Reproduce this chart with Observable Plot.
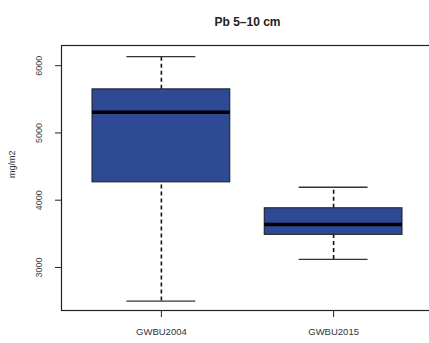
<!DOCTYPE html>
<html><head><meta charset="utf-8">
<script src="https://cdn.jsdelivr.net/npm/d3@7"></script>
<script src="https://cdn.jsdelivr.net/npm/@observablehq/plot@0.6"></script>
<style>
html,body{margin:0;padding:0;background:#fff;overflow:hidden;}
svg{max-width:none !important;}
</style></head>
<body><div id="chart"></div>
<script>
const categories = ["GWBU2004", "GWBU2015"];
const whiskerLow  = [2500, 3120];
const q1          = [4265, 3485];
const median      = [5307, 3640];
const q3          = [5648, 3880];
const whiskerHigh = [6135, 4192];
const yTicks = [3000, 4000, 5000, 6000];
const title = "Pb 5\u201310 cm";
const yLabel = "mg/m2";

const data = categories.map((c, i) => ({
  cat: c, i: i + 1, lo: whiskerLow[i], q1: q1[i], med: median[i], q3: q3[i], hi: whiskerHigh[i]
}));

const font = "Liberation Sans, Arial, sans-serif";
const chart = Plot.plot({
  width: 434, height: 343,
  marginLeft: 61, marginRight: 1, marginTop: 45, marginBottom: 33,
  style: {fontFamily: font, fontSize: "9px", color: "#333", background: "#fff", maxWidth: "none"},
  x: {domain: [0.42, 2.58], axis: null},
  y: {domain: [2360, 6300], axis: null},
  marks: [
    Plot.ruleX(data, {x: "i", y1: "lo", y2: "q1", stroke: "#111", strokeWidth: 1.6, strokeDasharray: "4,3"}),
    Plot.ruleX(data, {x: "i", y1: "q3", y2: "hi", stroke: "#111", strokeWidth: 1.6, strokeDasharray: "4,3"}),
    Plot.ruleY(data, {y: "lo", x1: d => d.i - 0.2, x2: d => d.i + 0.2, stroke: "#333", strokeWidth: 1.4}),
    Plot.ruleY(data, {y: "hi", x1: d => d.i - 0.2, x2: d => d.i + 0.2, stroke: "#333", strokeWidth: 1.4}),
    Plot.rectY(data, {x1: d => d.i - 0.4, x2: d => d.i + 0.4, y1: "q1", y2: "q3", fill: "#2f4a95", stroke: "#1a1a1a", strokeWidth: 1}),
    Plot.ruleY(data, {y: "med", x1: d => d.i - 0.4, x2: d => d.i + 0.4, stroke: "#000", strokeWidth: 3.5}),
    Plot.frame({stroke: "#222", strokeWidth: 1.2}),
    Plot.axisY(yTicks, {tickSize: 6, tickRotate: -90, tickPadding: 14, tickFormat: "d", label: null, stroke: "#222", fill: "#444", fontSize: 9}),
    Plot.axisX([1, 2], {tickSize: 7, tickPadding: 11, tickFormat: d => categories[d - 1], label: null, stroke: "#222", fill: "#333", fontSize: 9.5}),
    Plot.text([title], {frameAnchor: "top", dy: -28, fontWeight: "bold", fontSize: 12, fill: "#222"}),
    Plot.text([yLabel], {frameAnchor: "left", dx: -49, rotate: -90, fontSize: 9, fill: "#333"})
  ]
});
document.getElementById("chart").appendChild(chart);
</script></body></html>
